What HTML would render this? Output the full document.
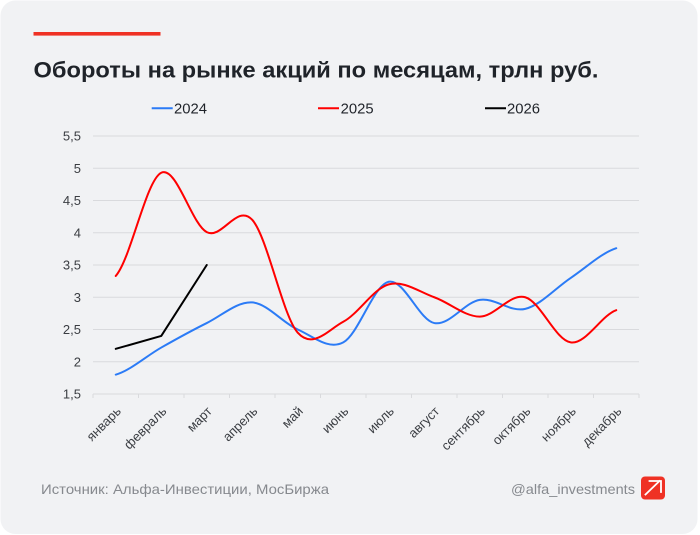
<!DOCTYPE html>
<html><head><meta charset="utf-8"><style>
html,body{margin:0;padding:0;background:#fff;}
svg{display:block;}
text{font-family:"Liberation Sans",Arial,sans-serif;}
</style></head><body>
<svg width="700" height="535" viewBox="0 0 700 535" xmlns="http://www.w3.org/2000/svg">
<rect x="0" y="0" width="700" height="535" fill="#ffffff"/>
<rect x="0.5" y="0.5" width="697" height="533.5" rx="15" ry="15" fill="#f1f2f4"/>
<rect x="33.5" y="32" width="127" height="3.6" fill="#ef3124"/>
<text x="33.5" y="77.3" font-size="22" font-weight="bold" fill="#1f2329" textLength="565" lengthAdjust="spacingAndGlyphs">Обороты на рынке акций по месяцам, трлн руб.</text>
<!-- legend -->
<line x1="151.7" y1="108.3" x2="172.7" y2="108.3" stroke="#2b7bf6" stroke-width="2"/>
<text x="174" y="113.5" font-size="14.5" fill="#1f2329" textLength="33" lengthAdjust="spacingAndGlyphs">2024</text>
<line x1="318" y1="108.3" x2="339" y2="108.3" stroke="#ff0000" stroke-width="2"/>
<text x="340.6" y="113.5" font-size="14.5" fill="#1f2329" textLength="33" lengthAdjust="spacingAndGlyphs">2025</text>
<line x1="485" y1="108.3" x2="506" y2="108.3" stroke="#000000" stroke-width="2"/>
<text x="507" y="113.5" font-size="14.5" fill="#1f2329" textLength="33" lengthAdjust="spacingAndGlyphs">2026</text>
<!-- grid -->
<g stroke="#d9dadd" stroke-width="1">
<line x1="93" y1="136" x2="639" y2="136"/>
<line x1="93" y1="168.25" x2="639" y2="168.25"/>
<line x1="93" y1="200.5" x2="639" y2="200.5"/>
<line x1="93" y1="232.75" x2="639" y2="232.75"/>
<line x1="93" y1="265" x2="639" y2="265"/>
<line x1="93" y1="297.25" x2="639" y2="297.25"/>
<line x1="93" y1="329.5" x2="639" y2="329.5"/>
<line x1="93" y1="361.75" x2="639" y2="361.75"/>
<line x1="93" y1="394" x2="639" y2="394"/>
<line x1="93" y1="394" x2="93" y2="398"/>
<line x1="138.5" y1="394" x2="138.5" y2="398"/>
<line x1="184" y1="394" x2="184" y2="398"/>
<line x1="229.5" y1="394" x2="229.5" y2="398"/>
<line x1="275" y1="394" x2="275" y2="398"/>
<line x1="320.5" y1="394" x2="320.5" y2="398"/>
<line x1="366" y1="394" x2="366" y2="398"/>
<line x1="411.5" y1="394" x2="411.5" y2="398"/>
<line x1="457" y1="394" x2="457" y2="398"/>
<line x1="502.5" y1="394" x2="502.5" y2="398"/>
<line x1="548" y1="394" x2="548" y2="398"/>
<line x1="593.5" y1="394" x2="593.5" y2="398"/>
<line x1="639" y1="394" x2="639" y2="398"/>
</g>
<!-- y labels -->
<g font-size="13" fill="#3a3d42" text-anchor="end">
<text x="81" y="140.5">5,5</text>
<text x="81" y="172.75">5</text>
<text x="81" y="205">4,5</text>
<text x="81" y="237.25">4</text>
<text x="81" y="269.5">3,5</text>
<text x="81" y="301.75">3</text>
<text x="81" y="334">2,5</text>
<text x="81" y="366.25">2</text>
<text x="81" y="398.5">1,5</text>
</g>
<!-- x labels -->
<g font-size="13" fill="#3a3d42" text-anchor="end">
<text transform="translate(121.75,412) rotate(-45)">январь</text>
<text transform="translate(167.25,412) rotate(-45)">февраль</text>
<text transform="translate(212.75,412) rotate(-45)">март</text>
<text transform="translate(258.25,412) rotate(-45)">апрель</text>
<text transform="translate(303.75,412) rotate(-45)">май</text>
<text transform="translate(349.25,412) rotate(-45)">июнь</text>
<text transform="translate(394.75,412) rotate(-45)">июль</text>
<text transform="translate(440.25,412) rotate(-45)">август</text>
<text transform="translate(485.75,412) rotate(-45)">сентябрь</text>
<text transform="translate(531.25,412) rotate(-45)">октябрь</text>
<text transform="translate(576.75,412) rotate(-45)">ноябрь</text>
<text transform="translate(622.25,412) rotate(-45)">декабрь</text>
</g>
<!-- series -->
<path fill="none" stroke="#2b7bf6" stroke-width="2" stroke-linejoin="round" stroke-linecap="round" d="M115.75,374.65 C130.92,370.14 146.08,356.16 161.25,347.56 C176.42,338.96 191.58,330.58 206.75,323.05 C221.92,315.53 237.08,301.34 252.25,302.41 C267.42,303.49 282.58,322.84 297.75,329.5 C312.92,336.17 328.08,350.36 343.25,342.4 C358.42,334.45 373.58,285.0 388.75,281.77 C403.92,278.55 419.08,320.04 434.25,323.05 C449.42,326.06 464.58,302.2 479.75,299.83 C494.92,297.47 510.08,312.52 525.25,308.86 C540.42,305.21 555.58,288.01 570.75,277.9 C585.92,267.8 601.08,253.18 616.25,248.23"/>
<path fill="none" stroke="#ff0000" stroke-width="2" stroke-linejoin="round" stroke-linecap="round" d="M115.75,275.96 C130.92,258.76 146.08,180.07 161.25,172.76 C176.42,165.45 191.58,224.25 206.75,232.1 C221.92,239.95 237.08,203.08 252.25,219.85 C267.42,236.62 282.58,315.74 297.75,332.72 C312.92,349.71 328.08,329.82 343.25,321.76 C358.42,313.7 373.58,288.44 388.75,284.35 C403.92,280.27 419.08,291.88 434.25,297.25 C449.42,302.63 464.58,316.6 479.75,316.6 C494.92,316.6 510.08,292.95 525.25,297.25 C540.42,301.55 555.58,340.25 570.75,342.4 C585.92,344.55 601.08,315.53 616.25,310.15"/>
<path fill="none" stroke="#000000" stroke-width="2" stroke-linejoin="round" stroke-linecap="round" d="M115.75,348.85 L161.25,335.95 L206.75,265"/>
<!-- footer -->
<text x="41" y="494" font-size="14" fill="#86898e" textLength="288" lengthAdjust="spacingAndGlyphs">Источник: Альфа-Инвестиции, МосБиржа</text>
<text x="511" y="494" font-size="14" fill="#86898e" textLength="124" lengthAdjust="spacingAndGlyphs">@alfa_investments</text>
<rect x="641" y="476.5" width="24" height="23" rx="4" ry="4" fill="#ef3124"/>
<g stroke="#ffffff" stroke-width="1.8" fill="none" stroke-linecap="square">
<line x1="645.5" y1="494.5" x2="659.5" y2="481"/>
<polyline points="649.5,481 661,481 661,492"/>
</g>
</svg>
</body></html>
